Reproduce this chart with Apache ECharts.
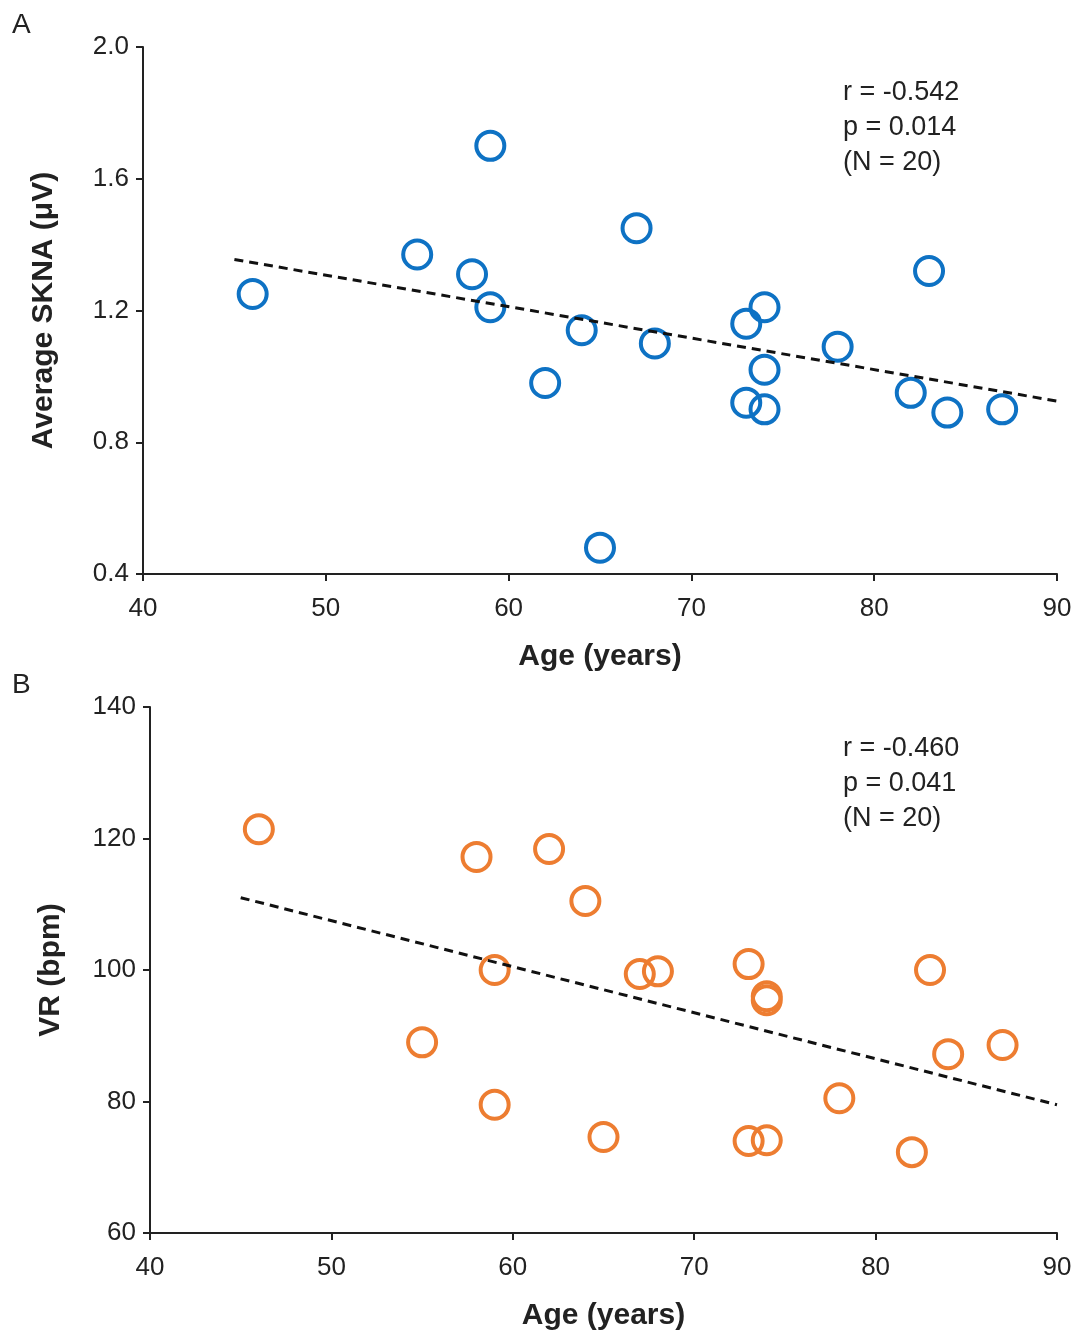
<!DOCTYPE html>
<html><head><meta charset="utf-8">
<script src="https://cdn.jsdelivr.net/npm/echarts@6/dist/echarts.min.js"></script>
<style>html,body{margin:0;background:#fff}#c{width:1085px;height:1337px}</style>
</head><body><div id="c"></div>
<script>
// panel A: age vs average SKNA
var skna_age = [46,59,55,58,59,67,64,62,68,73,74,74,73,74,78,83,82,84,87,65];
var skna_val = [1.25,1.70,1.37,1.31,1.21,1.45,1.14,0.98,1.10,1.16,1.21,1.02,0.92,0.90,1.09,1.32,0.95,0.89,0.90,0.48];
var skna_fit = [[45,1.355],[90,0.925]];
// panel B: age vs VR
var vr_age = [46,58,62,64,59,67,68,73,74,74,83,55,59,65,73,74,78,82,84,87];
var vr_val = [121.4,117.2,118.4,110.5,100,99.4,99.8,100.9,96.0,95.4,100,89,79.5,74.6,74,74.1,80.5,72.3,87.2,88.6];
var vr_fit = [[45,111],[90,79.5]];

function pairs(a,b){ return a.map(function(v,i){ return [v,b[i]]; }); }

var lbl = {fontFamily:'Arial, Liberation Sans',fontSize:26,color:'#222'};
var nameSt = {fontFamily:'Arial, Liberation Sans',fontSize:30,fontWeight:'bold',color:'#222'};
var axLine = {lineStyle:{color:'#222',width:2}};
function xAx(idx){
	return {gridIndex:idx,type:'value',min:40,max:90,interval:10,name:'Age (years)',nameLocation:'middle',nameGap:68,
		nameTextStyle:nameSt,axisLine:axLine,axisTick:{show:true,inside:false,length:7,lineStyle:{color:'#222',width:2}},
		axisLabel:Object.assign({margin:22},lbl),splitLine:{show:false}};
}
function yAx(idx,min,max,intv,name,fmt){
	return {gridIndex:idx,type:'value',min:min,max:max,interval:intv,name:name,nameLocation:'middle',nameGap:84,
		nameTextStyle:nameSt,axisLine:Object.assign({show:true},axLine),axisTick:{show:true,length:7,lineStyle:{color:'#222',width:2}},
		axisLabel:Object.assign({formatter:fmt,margin:14},lbl),splitLine:{show:false}};
}
function txt(x,y,s,size){ return {type:'text',left:x,top:y,style:{text:s,font:(size||27)+'px Arial, Liberation Sans',fill:'#222',lineHeight:35}}; }

var chart = echarts.init(document.getElementById('c'));
chart.setOption({
	animation:false,
	grid:[{left:143,right:28,top:47,height:527,outerBoundsMode:'none'},{left:150,right:28,top:707,height:526,outerBoundsMode:'none'}],
	xAxis:[xAx(0),xAx(1)],
	yAxis:[yAx(0,0.4,2.0,0.4,'Average SKNA (\u03bcV)',function(v){return v.toFixed(1);}),
		yAx(1,60,140,20,'VR (bpm)',function(v){return v;})],
	graphic:[
		txt(12,8,'A',28), txt(12,668,'B',28),
		txt(843,75,'r = -0.542\np = 0.014\n(N = 20)'),
		txt(843,731,'r = -0.460\np = 0.041\n(N = 20)')
	],
	series:[
		{type:'scatter',xAxisIndex:0,yAxisIndex:0,data:pairs(skna_age,skna_val),symbol:'circle',symbolSize:28,
			itemStyle:{color:'rgba(0,0,0,0)',borderColor:'#0e72c4',borderWidth:4,opacity:1}},
		{type:'line',xAxisIndex:0,yAxisIndex:0,data:skna_fit,symbol:'none',lineStyle:{color:'#111',width:3,type:[9,6]}},
		{type:'scatter',xAxisIndex:1,yAxisIndex:1,data:pairs(vr_age,vr_val),symbol:'circle',symbolSize:28,
			itemStyle:{color:'rgba(0,0,0,0)',borderColor:'#ed7d31',borderWidth:4,opacity:1}},
		{type:'line',xAxisIndex:1,yAxisIndex:1,data:vr_fit,symbol:'none',lineStyle:{color:'#111',width:3,type:[9,6]}}
	]
});
</script></body></html>
